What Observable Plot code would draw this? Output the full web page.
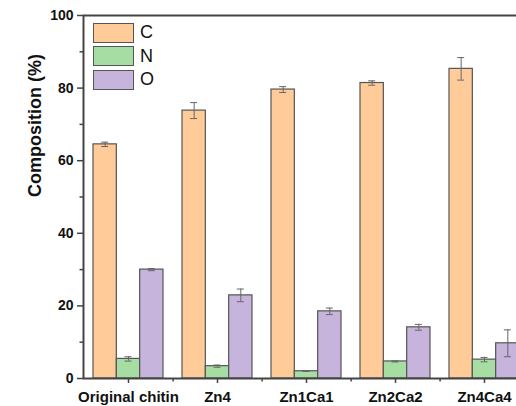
<!DOCTYPE html>
<html>
<head>
<meta charset="utf-8">
<script src="https://cdn.jsdelivr.net/npm/d3@7"></script>
<script src="https://cdn.jsdelivr.net/npm/@observablehq/plot@0.6"></script>
<style>
  html, body { margin: 0; padding: 0; background: #fff; overflow: hidden; width: 516px; height: 406px; }
  #wrap { position: relative; width: 540px; height: 406px; }
  #legend { position: absolute; left: 93px; top: 21px; font-family: "Liberation Sans", Arial, sans-serif; font-size: 18px; color: #111; }
  .item { display: flex; align-items: center; height: 23.5px; }
  .sw { width: 41px; height: 20px; border: 1.2px solid #555; box-sizing: border-box; margin-right: 6px; }
</style>
</head>
<body>
<div id="wrap"><div id="chart"></div><div id="legend"></div></div>
<script>
const categories = ["Original chitin", "Zn4", "Zn1Ca1", "Zn2Ca2", "Zn4Ca4"];
const elements = ["C", "N", "O"];
const cValues = [64.5, 73.8, 79.6, 81.4, 85.3];
const cErrors = [0.6, 2.2, 0.8, 0.6, 3.1];
const nValues = [5.4, 3.4, 2.0, 4.7, 5.2];
const nErrors = [0.6, 0.3, 0.05, 0.15, 0.6];
const oValues = [30.0, 22.9, 18.5, 14.1, 9.7];
const oErrors = [0.3, 1.75, 0.9, 0.8, 3.7];
const colors = ["#FFCC99", "#A6DDA3", "#C6B4DC"];
const yTicks = [0, 20, 40, 60, 80, 100];
const yMinorTicks = [10, 30, 50, 70, 90];
const yLabel = "Composition (%)";

const valueSets = [cValues, nValues, oValues];
const errorSets = [cErrors, nErrors, oErrors];
const series = elements.map((el, k) =>
  categories.map((cat, i) => ({cat, el, v: valueSets[k][i], e: errorSets[k][i]}))
);

const bw = 70;           // group bandwidth (px)
const sub = bw / 3;      // single bar width
const cap = 3.5;         // half cap width

const marks = [];
series.forEach((data, k) => {
  marks.push(Plot.barY(data, {
    x: "cat", y: "v", fill: colors[k], stroke: "#555", strokeWidth: 1.2,
    insetLeft: k * sub, insetRight: (2 - k) * sub
  }));
});
series.forEach((data, k) => {
  const center = sub * k + sub / 2;
  marks.push(Plot.ruleX(data, {
    x: "cat", y1: d => d.v - d.e, y2: d => d.v + d.e,
    dx: center - bw / 2, stroke: "#666", strokeWidth: 1
  }));
  for (const f of [d => d.v - d.e, d => d.v + d.e]) {
    marks.push(Plot.tickY(data, {
      x: "cat", y: f, stroke: "#666", strokeWidth: 1,
      insetLeft: center - cap, insetRight: bw - center - cap
    }));
  }
});

const chart = Plot.plot({
  width: 540,
  height: 406,
  marginLeft: 83,
  marginRight: 11,
  marginTop: 15,
  marginBottom: 28,
  style: {fontFamily: "'Liberation Sans', Arial, sans-serif", color: "#111", background: "#fff"},
  x: {type: "band", domain: categories, paddingInner: 0.215, paddingOuter: 0.1075, label: null},
  y: {domain: [0, 100], label: null},
  marks: [
    ...marks,
    Plot.frame({stroke: "#444", strokeWidth: 2}),
    Plot.axisY(yTicks, {tickSize: 6, tickPadding: 4, fontWeight: "bold", fontSize: 14, stroke: "#444", strokeWidth: 1.5, label: null}),
    Plot.axisY(yMinorTicks, {tickSize: 3.5, tickFormat: () => "", stroke: "#444", strokeWidth: 1.5, label: null}),
    Plot.axisX({tickSize: 5, tickPadding: 8, fontWeight: "bold", fontSize: 15, stroke: "#444", strokeWidth: 1.5, label: null}),
    Plot.axisX({tickSize: 3.5, tickFormat: () => "", dx: bw / 2 + 9.6, stroke: "#444", strokeWidth: 1.5, label: null}),
    Plot.text([yLabel], {frameAnchor: "left", rotate: -90, dx: -48, fontSize: 18, fontWeight: "bold", fill: "#111"})
  ]
});
document.getElementById("chart").appendChild(chart);

const legend = document.getElementById("legend");
elements.forEach((el, k) => {
  const item = document.createElement("div");
  item.className = "item";
  const sw = document.createElement("div");
  sw.className = "sw";
  sw.style.background = colors[k];
  const lab = document.createElement("span");
  lab.textContent = el;
  item.appendChild(sw);
  item.appendChild(lab);
  legend.appendChild(item);
});
</script>
</body>
</html>
